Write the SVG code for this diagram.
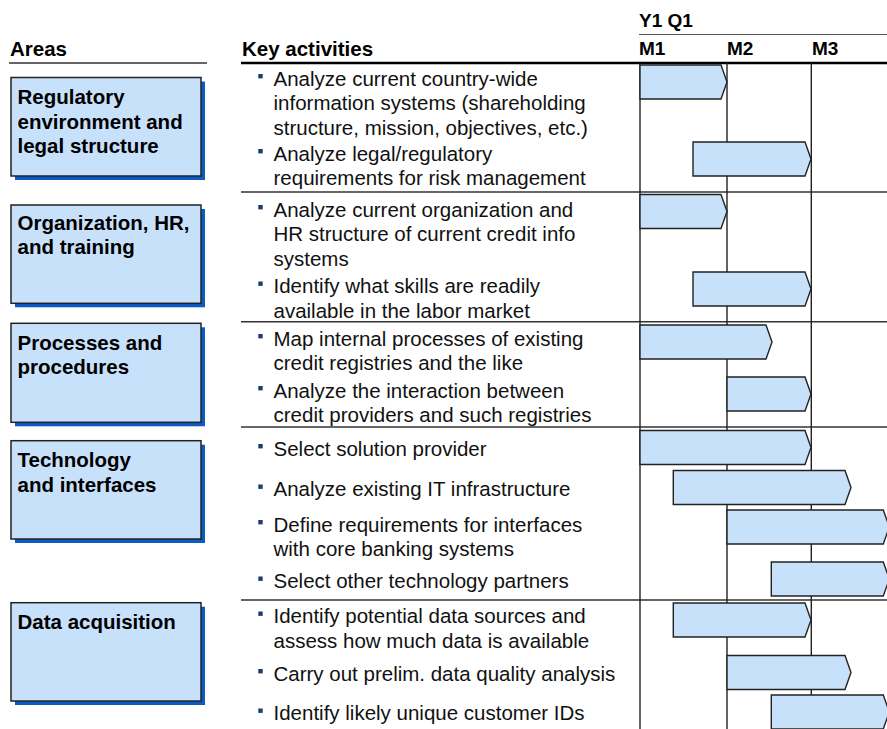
<svg xmlns="http://www.w3.org/2000/svg" width="887" height="729" viewBox="0 0 887 729">
<style>
.hdr{font-family:"Liberation Sans",Arial,sans-serif;font-weight:bold;font-size:20.5px;fill:#000}
.mon{font-family:"Liberation Sans",Arial,sans-serif;font-weight:bold;font-size:19px;fill:#000}
.area{font-family:"Liberation Sans",Arial,sans-serif;font-weight:bold;font-size:20.5px;fill:#000}
.act{font-family:"Liberation Sans",Arial,sans-serif;font-size:20.5px;fill:#111}
.box{fill:#c8e1fb;stroke:#222;stroke-width:1.5}
.shadow{fill:#0a5cc4}
.bar{fill:#c8e1fb;stroke:#222;stroke-width:1.4;stroke-linejoin:miter}
.bul{fill:#1f3b73}
.grid{stroke:#222;stroke-width:1.4;fill:none}
.sep{stroke:#333;stroke-width:1.5;fill:none}
</style>
<rect width="887" height="729" fill="#fff"/>

<g id="headers">
<text class="hdr" x="10" y="56">Areas</text>
<text class="hdr" x="242" y="56">Key activities</text>
<text class="mon" x="639" y="27">Y1 Q1</text>
<text class="mon" x="639" y="55">M1</text>
<text class="mon" x="727" y="55">M2</text>
<text class="mon" x="812" y="55">M3</text>
</g>

<g id="connectors">
<line class="sep" x1="9" y1="63" x2="207" y2="63" stroke="#555"/>
<line x1="241" y1="63" x2="887" y2="63" stroke="#000" stroke-width="2.5"/>
<line x1="639" y1="34.5" x2="887" y2="34.5" stroke="#555" stroke-width="1.2"/>
<line class="sep" x1="241" y1="192" x2="887" y2="192"/>
<line class="sep" x1="241" y1="321.7" x2="887" y2="321.7"/>
<line class="sep" x1="241" y1="427" x2="887" y2="427"/>
<line class="sep" x1="241" y1="600" x2="887" y2="600"/>
<line class="grid" x1="640" y1="63" x2="640" y2="729"/>
<line class="grid" x1="727" y1="63" x2="727" y2="729" stroke="#444"/>
<line class="grid" x1="811.3" y1="63" x2="811.3" y2="729"/>
</g>

<g id="area-regulatory">
<rect class="shadow" x="15" y="81.5" width="190" height="98.5"/>
<rect class="box" x="11" y="77.5" width="190" height="98.5"/>
<text class="area" x="17.5"><tspan x="17.5" y="104">Regulatory</tspan><tspan x="17.5" y="128.5">environment and</tspan><tspan x="17.5" y="153">legal structure</tspan></text>
</g>
<g id="area-organization">
<rect class="shadow" x="15" y="209" width="190" height="98.3"/>
<rect class="box" x="11" y="205" width="190" height="98.3"/>
<text class="area" x="17.5"><tspan x="17.5" y="229.5">Organization, HR,</tspan><tspan x="17.5" y="254">and training</tspan></text>
</g>
<g id="area-processes">
<rect class="shadow" x="15" y="327.3" width="190" height="99"/>
<rect class="box" x="11" y="323.3" width="190" height="99"/>
<text class="area" x="17.5"><tspan x="17.5" y="349.5">Processes and</tspan><tspan x="17.5" y="373.5">procedures</tspan></text>
</g>
<g id="area-technology">
<rect class="shadow" x="15" y="444.7" width="190" height="98.3"/>
<rect class="box" x="11" y="440.7" width="190" height="98.3"/>
<text class="area" x="17.5"><tspan x="17.5" y="466.5">Technology</tspan><tspan x="17.5" y="491.5">and interfaces</tspan></text>
</g>
<g id="area-data">
<rect class="shadow" x="15" y="606.7" width="190" height="98.3"/>
<rect class="box" x="11" y="602.7" width="190" height="98.3"/>
<text class="area" x="17.5" y="628.5">Data acquisition</text>
</g>

<g id="act-1">
<rect class="bul" x="258.3" y="74" width="4.4" height="4.4"/>
<text class="act"><tspan x="273.5" y="85.5">Analyze current country-wide</tspan><tspan x="273.5" y="110">information systems (shareholding</tspan><tspan x="273.5" y="134.5">structure, mission, objectives, etc.)</tspan></text>
<path class="bar" d="M640,65 L721,65 L727,82 L721,99 L640,99 Z"/>
</g>
<g id="act-2">
<rect class="bul" x="258.3" y="149" width="4.4" height="4.4"/>
<text class="act"><tspan x="273.5" y="160.5">Analyze legal/regulatory</tspan><tspan x="273.5" y="185">requirements for risk management</tspan></text>
<path class="bar" d="M693,142 L805,142 L811,159 L805,176 L693,176 Z"/>
</g>
<g id="act-3">
<rect class="bul" x="258.3" y="205" width="4.4" height="4.4"/>
<text class="act"><tspan x="273.5" y="216.5">Analyze current organization and</tspan><tspan x="273.5" y="241">HR structure of current credit info</tspan><tspan x="273.5" y="265.5">systems</tspan></text>
<path class="bar" d="M640,194.5 L721,194.5 L727,211.5 L721,228.5 L640,228.5 Z"/>
</g>
<g id="act-4">
<rect class="bul" x="258.3" y="281.5" width="4.4" height="4.4"/>
<text class="act"><tspan x="273.5" y="293">Identify what skills are readily</tspan><tspan x="273.5" y="317.5">available in the labor market</tspan></text>
<path class="bar" d="M693,272 L805,272 L811,289 L805,306 L693,306 Z"/>
</g>
<g id="act-5">
<rect class="bul" x="258.3" y="334" width="4.4" height="4.4"/>
<text class="act"><tspan x="273.5" y="345.5">Map internal processes of existing</tspan><tspan x="273.5" y="370">credit registries and the like</tspan></text>
<path class="bar" d="M640,325 L766,325 L772,342 L766,359 L640,359 Z"/>
</g>
<g id="act-6">
<rect class="bul" x="258.3" y="386" width="4.4" height="4.4"/>
<text class="act"><tspan x="273.5" y="397.5">Analyze the interaction between</tspan><tspan x="273.5" y="422">credit providers and such registries</tspan></text>
<path class="bar" d="M727,377 L805,377 L811,394 L805,411 L727,411 Z"/>
</g>
<g id="act-7">
<rect class="bul" x="258.3" y="444" width="4.4" height="4.4"/>
<text class="act" x="273.5" y="455.5">Select solution provider</text>
<path class="bar" d="M640,430.5 L805,430.5 L811,447.5 L805,464.5 L640,464.5 Z"/>
</g>
<g id="act-8">
<rect class="bul" x="258.3" y="484.5" width="4.4" height="4.4"/>
<text class="act" x="273.5" y="496">Analyze existing IT infrastructure</text>
<path class="bar" d="M673.3,470.5 L845,470.5 L851,487.5 L845,504.5 L673.3,504.5 Z"/>
</g>
<g id="act-9">
<rect class="bul" x="258.3" y="520" width="4.4" height="4.4"/>
<text class="act"><tspan x="273.5" y="531.5">Define requirements for interfaces</tspan><tspan x="273.5" y="556">with core banking systems</tspan></text>
<path class="bar" d="M727,510 L883.3,510 L889.3,527 L883.3,544 L727,544 Z"/>
</g>
<g id="act-10">
<rect class="bul" x="258.3" y="576.5" width="4.4" height="4.4"/>
<text class="act" x="273.5" y="588">Select other technology partners</text>
<path class="bar" d="M771.3,562 L883.3,562 L889.3,579 L883.3,596 L771.3,596 Z"/>
</g>
<g id="act-11">
<rect class="bul" x="258.3" y="611.5" width="4.4" height="4.4"/>
<text class="act"><tspan x="273.5" y="623">Identify potential data sources and</tspan><tspan x="273.5" y="647.5">assess how much data is available</tspan></text>
<path class="bar" d="M673.3,603 L805,603 L811,620 L805,637 L673.3,637 Z"/>
</g>
<g id="act-12">
<rect class="bul" x="258.3" y="669" width="4.4" height="4.4"/>
<text class="act" x="273.5" y="680.5">Carry out prelim. data quality analysis</text>
<path class="bar" d="M727,655.5 L845,655.5 L851,672.5 L845,689.5 L727,689.5 Z"/>
</g>
<g id="act-13">
<rect class="bul" x="258.3" y="708.5" width="4.4" height="4.4"/>
<text class="act" x="273.5" y="720">Identify likely unique customer IDs</text>
<path class="bar" d="M771.3,695 L883.3,695 L889.3,712 L883.3,729 L771.3,729 Z"/>
</g>
</svg>
